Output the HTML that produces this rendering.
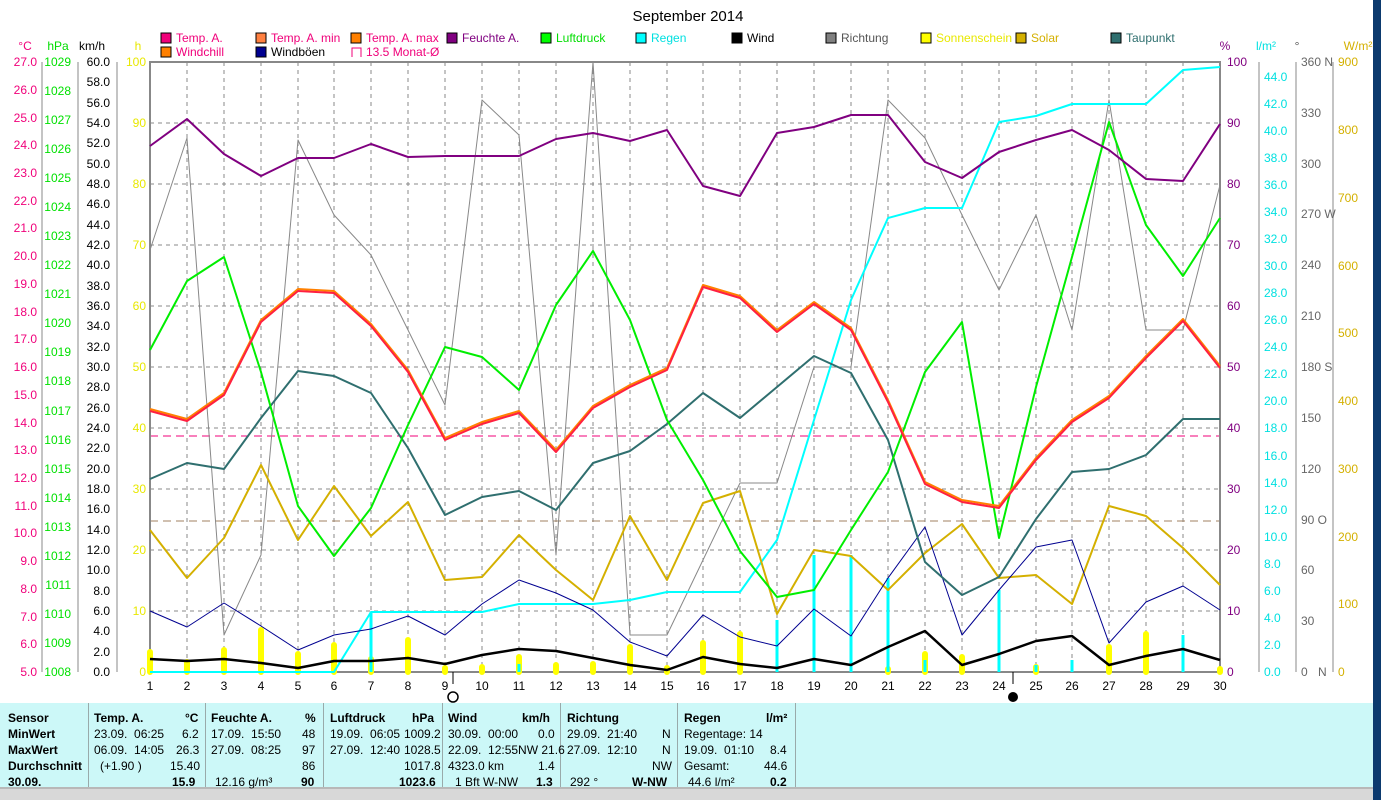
<!DOCTYPE html>
<html><head><meta charset="utf-8"><style>
body{margin:0;width:1381px;height:800px;overflow:hidden;background:#fff;font-family:"Liberation Sans",sans-serif;position:relative}
svg{position:absolute;left:0;top:0}
.tb{position:absolute;left:0;top:703px;width:1373px;height:84px;background:#ccf8f8}
.c{position:absolute;font-size:12px;color:#000;white-space:nowrap}
.b{font-weight:bold}
.sep{position:absolute;top:703px;width:1px;height:84px;background:#9aa}
</style></head><body>
<svg width="1381" height="800" font-family="Liberation Sans, sans-serif" font-size="12">
<rect x="1373" y="0" width="8" height="800" fill="#0c3a6e"/>
<text x="688" y="21" font-size="15" text-anchor="middle">September 2014</text>
<!-- legend -->
<g font-size="12">
<rect x="161" y="33" width="10" height="10" fill="#f0007a" stroke="#000"/><text x="176" y="42" fill="#f0007a">Temp. A.</text>
<rect x="256" y="33" width="10" height="10" fill="#ff8040" stroke="#000"/><text x="271" y="42" fill="#f0007a">Temp. A. min</text>
<rect x="351" y="33" width="10" height="10" fill="#ff8000" stroke="#000"/><text x="366" y="42" fill="#f0007a">Temp. A. max</text>
<rect x="447" y="33" width="10" height="10" fill="#800080" stroke="#000"/><text x="462" y="42" fill="#800080">Feuchte A.</text>
<rect x="541" y="33" width="10" height="10" fill="#00ff00" stroke="#000"/><text x="556" y="42" fill="#00dd00">Luftdruck</text>
<rect x="636" y="33" width="10" height="10" fill="#00ffff" stroke="#000"/><text x="651" y="42" fill="#00e0e0">Regen</text>
<rect x="732" y="33" width="10" height="10" fill="#000" stroke="#000"/><text x="747" y="42">Wind</text>
<rect x="826" y="33" width="10" height="10" fill="#808080" stroke="#000"/><text x="841" y="42" fill="#555">Richtung</text>
<rect x="921" y="33" width="10" height="10" fill="#ffff00" stroke="#000"/><text x="936" y="42" fill="#e8e800">Sonnenschein</text>
<rect x="1016" y="33" width="10" height="10" fill="#d4b000" stroke="#000"/><text x="1031" y="42" fill="#d4b000">Solar</text>
<rect x="1111" y="33" width="10" height="10" fill="#2f6f6f" stroke="#000"/><text x="1126" y="42" fill="#2f6f6f">Taupunkt</text>
<rect x="161" y="47" width="10" height="10" fill="#ff8000" stroke="#000"/><text x="176" y="56" fill="#f0007a">Windchill</text>
<rect x="256" y="47" width="10" height="10" fill="#000090" stroke="#000"/><text x="271" y="56">Windböen</text>
<path d="M352 57V48h9v9" fill="none" stroke="#f0007a"/><text x="366" y="56" fill="#f0007a">13.5 Monat-Ø</text>
</g>
<!-- axis headers -->
<text x="25" y="50" fill="#f0007a" text-anchor="middle">°C</text>
<text x="58" y="50" fill="#00dd00" text-anchor="middle">hPa</text>
<text x="92" y="50" text-anchor="middle">km/h</text>
<text x="138" y="50" fill="#e8e800" text-anchor="middle">h</text>
<text x="1225" y="50" fill="#800080" text-anchor="middle">%</text>
<text x="1266" y="50" fill="#00e0e0" text-anchor="middle">l/m²</text>
<text x="1297" y="50" fill="#555" text-anchor="middle">°</text>
<text x="1358" y="50" fill="#d4b000" text-anchor="middle">W/m²</text>
<!-- grid -->
<g stroke="#888" stroke-dasharray="4,4" stroke-width="1">
<path d="M187 62V672M224 62V672M261 62V672M298 62V672M334 62V672M371 62V672M408 62V672M445 62V672M482 62V672M519 62V672M556 62V672M593 62V672M630 62V672M667 62V672M703 62V672M740 62V672M777 62V672M814 62V672M851 62V672M888 62V672M925 62V672M962 62V672M999 62V672M1036 62V672M1072 62V672M1109 62V672M1146 62V672M1183 62V672"/>
<path d="M150 123H1220M150 184H1220M150 245H1220M150 306H1220M150 367H1220M150 428H1220M150 489H1220M150 550H1220M150 611H1220"/>
</g>
<path d="M150 436H1220" stroke="#f0007a" stroke-dasharray="8,5"/>
<path d="M150 521H1220" stroke="#a08060" stroke-dasharray="8,5"/>
<rect x="150" y="62" width="1070" height="610" fill="none" stroke="#888" stroke-width="2"/>
<!-- left axes -->
<g stroke="#888"><path d="M42 62V672M78 62V672M117 62V672"/></g>
<g fill="#f0007a" text-anchor="end">
<text x="37" y="66">27.0</text><text x="37" y="94">26.0</text><text x="37" y="122">25.0</text><text x="37" y="149">24.0</text><text x="37" y="177">23.0</text><text x="37" y="205">22.0</text><text x="37" y="232">21.0</text><text x="37" y="260">20.0</text><text x="37" y="288">19.0</text><text x="37" y="316">18.0</text><text x="37" y="343">17.0</text><text x="37" y="371">16.0</text><text x="37" y="399">15.0</text><text x="37" y="427">14.0</text><text x="37" y="454">13.0</text><text x="37" y="482">12.0</text><text x="37" y="510">11.0</text><text x="37" y="537">10.0</text><text x="37" y="565">9.0</text><text x="37" y="593">8.0</text><text x="37" y="621">7.0</text><text x="37" y="648">6.0</text><text x="37" y="676">5.0</text>
</g>
<g fill="#00e000" text-anchor="end">
<text x="71" y="66">1029</text><text x="71" y="95">1028</text><text x="71" y="124">1027</text><text x="71" y="153">1026</text><text x="71" y="182">1025</text><text x="71" y="211">1024</text><text x="71" y="240">1023</text><text x="71" y="269">1022</text><text x="71" y="298">1021</text><text x="71" y="327">1020</text><text x="71" y="356">1019</text><text x="71" y="385">1018</text><text x="71" y="415">1017</text><text x="71" y="444">1016</text><text x="71" y="473">1015</text><text x="71" y="502">1014</text><text x="71" y="531">1013</text><text x="71" y="560">1012</text><text x="71" y="589">1011</text><text x="71" y="618">1010</text><text x="71" y="647">1009</text><text x="71" y="676">1008</text>
</g>
<g text-anchor="end">
<text x="110" y="66">60.0</text><text x="110" y="86">58.0</text><text x="110" y="107">56.0</text><text x="110" y="127">54.0</text><text x="110" y="147">52.0</text><text x="110" y="168">50.0</text><text x="110" y="188">48.0</text><text x="110" y="208">46.0</text><text x="110" y="229">44.0</text><text x="110" y="249">42.0</text><text x="110" y="269">40.0</text><text x="110" y="290">38.0</text><text x="110" y="310">36.0</text><text x="110" y="330">34.0</text><text x="110" y="351">32.0</text><text x="110" y="371">30.0</text><text x="110" y="391">28.0</text><text x="110" y="412">26.0</text><text x="110" y="432">24.0</text><text x="110" y="452">22.0</text><text x="110" y="473">20.0</text><text x="110" y="493">18.0</text><text x="110" y="513">16.0</text><text x="110" y="534">14.0</text><text x="110" y="554">12.0</text><text x="110" y="574">10.0</text><text x="110" y="595">8.0</text><text x="110" y="615">6.0</text><text x="110" y="635">4.0</text><text x="110" y="656">2.0</text><text x="110" y="676">0.0</text>
</g>
<g fill="#e8e800" text-anchor="end">
<text x="146" y="66">100</text><text x="146" y="127">90</text><text x="146" y="188">80</text><text x="146" y="249">70</text><text x="146" y="310">60</text><text x="146" y="371">50</text><text x="146" y="432">40</text><text x="146" y="493">30</text><text x="146" y="554">20</text><text x="146" y="615">10</text><text x="146" y="676">0</text>
</g>
<!-- right axes -->
<g stroke="#888"><path d="M1259 62V672M1296 62V672M1333 62V672"/></g>
<g fill="#800080">
<text x="1227" y="66">100</text><text x="1227" y="127">90</text><text x="1227" y="188">80</text><text x="1227" y="249">70</text><text x="1227" y="310">60</text><text x="1227" y="371">50</text><text x="1227" y="432">40</text><text x="1227" y="493">30</text><text x="1227" y="554">20</text><text x="1227" y="615">10</text><text x="1227" y="676">0</text>
</g>
<g fill="#00e0e0">
<text x="1264" y="81">44.0</text><text x="1264" y="108">42.0</text><text x="1264" y="135">40.0</text><text x="1264" y="162">38.0</text><text x="1264" y="189">36.0</text><text x="1264" y="216">34.0</text><text x="1264" y="243">32.0</text><text x="1264" y="270">30.0</text><text x="1264" y="297">28.0</text><text x="1264" y="324">26.0</text><text x="1264" y="351">24.0</text><text x="1264" y="378">22.0</text><text x="1264" y="405">20.0</text><text x="1264" y="432">18.0</text><text x="1264" y="460">16.0</text><text x="1264" y="487">14.0</text><text x="1264" y="514">12.0</text><text x="1264" y="541">10.0</text><text x="1264" y="568">8.0</text><text x="1264" y="595">6.0</text><text x="1264" y="622">4.0</text><text x="1264" y="649">2.0</text><text x="1264" y="676">0.0</text>
</g>
<g fill="#666">
<text x="1301" y="66">360 N</text><text x="1301" y="117">330</text><text x="1301" y="168">300</text><text x="1301" y="218">270 W</text><text x="1301" y="269">240</text><text x="1301" y="320">210</text><text x="1301" y="371">180 S</text><text x="1301" y="422">150</text><text x="1301" y="473">120</text><text x="1301" y="524">90 O</text><text x="1301" y="574">60</text><text x="1301" y="625">30</text><text x="1301" y="676">0</text><text x="1318" y="676">N</text>
</g>
<g fill="#d4b000">
<text x="1338" y="66">900</text><text x="1338" y="134">800</text><text x="1338" y="202">700</text><text x="1338" y="270">600</text><text x="1338" y="337">500</text><text x="1338" y="405">400</text><text x="1338" y="473">300</text><text x="1338" y="541">200</text><text x="1338" y="608">100</text><text x="1338" y="676">0</text>
</g>
<!-- x labels -->
<g text-anchor="middle">
<text x="150" y="690">1</text><text x="187" y="690">2</text><text x="224" y="690">3</text><text x="261" y="690">4</text><text x="298" y="690">5</text><text x="334" y="690">6</text><text x="371" y="690">7</text><text x="408" y="690">8</text><text x="445" y="690">9</text><text x="482" y="690">10</text><text x="519" y="690">11</text><text x="556" y="690">12</text><text x="593" y="690">13</text><text x="630" y="690">14</text><text x="667" y="690">15</text><text x="703" y="690">16</text><text x="740" y="690">17</text><text x="777" y="690">18</text><text x="814" y="690">19</text><text x="851" y="690">20</text><text x="888" y="690">21</text><text x="925" y="690">22</text><text x="962" y="690">23</text><text x="999" y="690">24</text><text x="1036" y="690">25</text><text x="1072" y="690">26</text><text x="1109" y="690">27</text><text x="1146" y="690">28</text><text x="1183" y="690">29</text><text x="1220" y="690">30</text>
</g>
<path d="M453 672v12M1013 672v12" stroke="#000"/>
<circle cx="453" cy="697" r="5" fill="none" stroke="#000" stroke-width="1.5"/>
<circle cx="1013" cy="697" r="5" fill="#000"/>
<!-- sunshine bars -->
<g stroke="#ffff00" stroke-width="6" stroke-linecap="round">
<path d="M150 672V652M187 672V662M224 672V650M261 672V630M298 672V654M334 672V645M371 672V659M408 672V640M445 672V668M482 672V667M519 672V657M556 672V665M593 672V664M630 672V647M667 672V668M703 672V643M740 672V634M888 672V669M925 672V654M962 672V657M1036 672V667M1109 672V647M1146 672V634M1220 672V669"/>
</g>
<!-- rain bars -->
<g stroke="#00ffff" stroke-width="3">
<path d="M371 672V612M519 672V664M777 672V620M814 672V555M851 672V555M888 672V578M925 672V660M999 672V590M1036 672V665M1072 672V660M1183 672V635"/>
</g>
<g fill="none" stroke-linejoin="round">
<polyline stroke="#888" stroke-width="1" points="150,250 187,138 224,635 261,555 298,140 334,215 371,255 408,330 445,405 482,100 519,135 556,555 593,62 630,635 667,635 703,560 740,483 777,483 814,367 851,367 888,100 925,138 962,215 999,290 1036,215 1072,330 1109,100 1146,330 1183,330 1220,185"/>
<polyline stroke="#00ffff" stroke-width="2" points="150,672 334,672 371,612 482,612 519,604 593,604 630,600 667,592 740,592 777,540 814,420 851,300 888,218 925,208 962,208 999,122 1036,116 1072,104 1146,104 1183,70 1220,67"/>
<polyline stroke="#d4b000" stroke-width="2" points="150,530 187,578 224,538 261,465 298,540 334,486 371,536 408,502 445,580 482,577 519,535 556,570 593,600 630,516 667,580 703,503 740,491 777,614 814,550 851,556 888,590 925,553 962,524 999,578 1036,575 1072,604 1109,506 1146,516 1183,548 1220,585"/>
<polyline stroke="#000090" stroke-width="1" points="150,611 187,627 224,603 261,626 298,650 334,635 371,629 408,616 445,635 482,604 519,580 556,593 593,610 630,642 667,656 703,615 740,637 777,646 814,609 851,636 888,578 925,527 962,635 999,590 1036,547 1072,540 1109,643 1146,602 1183,586 1220,610"/>
<polyline stroke="#000" stroke-width="2.5" points="150,659 187,661 224,659 261,663 298,668 334,661 371,661 408,658 445,664 482,655 519,649 556,651 593,658 630,665 667,670 703,657 740,664 777,668 814,659 851,665 888,647 925,631 962,665 999,654 1036,641 1072,636 1109,665 1146,656 1183,649 1220,660"/>
<polyline stroke="#2f6f6f" stroke-width="2" points="150,479 187,463 224,469 261,418 298,371 334,376 371,393 408,448 445,515 482,497 519,491 556,510 593,463 630,451 667,424 703,393 740,418 777,387 814,356 851,373 888,440 925,562 962,595 999,577 1036,519 1072,472 1109,469 1146,455 1183,419 1220,419"/>
<polyline stroke="#00ee00" stroke-width="2" points="150,350 187,281 224,257 261,372 298,506 334,556 371,508 408,425 445,347 482,357 519,390 556,305 593,251 630,320 667,420 703,480 740,551 777,597 814,590 851,530 888,472 925,372 962,322 999,538 1036,387 1072,257 1109,122 1146,225 1183,276 1220,218"/>
<polyline stroke="#ff8000" stroke-width="2" transform="translate(0,-2)" points="150,411 187,421 224,395 261,322 298,291 334,293 371,326 408,372 445,440 482,424 519,413 556,452 593,408 630,387 667,370 703,287 740,298 777,332 814,304 851,330 888,402 925,484 962,502 999,508 1036,460 1072,422 1109,398 1146,358 1183,321 1220,368"/>
<polyline stroke="#ff2040" stroke-width="2" points="150,411 187,421 224,395 261,322 298,291 334,293 371,326 408,372 445,440 482,424 519,413 556,452 593,408 630,387 667,370 703,287 740,298 777,332 814,304 851,330 888,402 925,484 962,502 999,508 1036,460 1072,422 1109,398 1146,358 1183,321 1220,368"/>
<polyline stroke="#800080" stroke-width="2" points="150,146 187,119 224,154 261,176 298,158 334,158 371,144 408,157 445,156 482,156 519,156 556,139 593,133 630,141 667,130 703,186 740,196 777,133 814,127 851,115 888,115 925,162 962,178 999,152 1036,140 1072,130 1109,150 1146,179 1183,181 1220,124"/>
</g>
<rect x="0" y="787" width="1373" height="13" fill="#d8d8d8"/>
<path d="M0 788H1373" stroke="#999"/>
</svg>
<div class="tb"></div>
<div class="sep" style="left:88px"></div><div class="sep" style="left:205px"></div><div class="sep" style="left:323px"></div><div class="sep" style="left:442px"></div><div class="sep" style="left:560px"></div><div class="sep" style="left:677px"></div><div class="sep" style="left:795px"></div>
<div class="c b" style="left:8px;top:711px">Sensor</div>
<div class="c b" style="left:8px;top:727px">MinWert</div>
<div class="c b" style="left:8px;top:743px">MaxWert</div>
<div class="c b" style="left:8px;top:759px">Durchschnitt</div>
<div class="c b" style="left:8px;top:775px">30.09.</div>

<div class="c b" style="left:94px;top:711px">Temp. A.</div><div class="c b" style="left:185px;top:711px">°C</div>
<div class="c" style="left:94px;top:727px">23.09.&nbsp; 06:25</div><div class="c" style="left:182px;top:727px">6.2</div>
<div class="c" style="left:94px;top:743px">06.09.&nbsp; 14:05</div><div class="c" style="left:176px;top:743px">26.3</div>
<div class="c" style="left:100px;top:759px">(+1.90 )</div><div class="c" style="left:170px;top:759px">15.40</div>
<div class="c b" style="left:172px;top:775px">15.9</div>

<div class="c b" style="left:211px;top:711px">Feuchte A.</div><div class="c b" style="left:305px;top:711px">%</div>
<div class="c" style="left:211px;top:727px">17.09.&nbsp; 15:50</div><div class="c" style="left:302px;top:727px">48</div>
<div class="c" style="left:211px;top:743px">27.09.&nbsp; 08:25</div><div class="c" style="left:302px;top:743px">97</div>
<div class="c" style="left:302px;top:759px">86</div>
<div class="c" style="left:215px;top:775px">12.16 g/m³</div><div class="c b" style="left:301px;top:775px">90</div>

<div class="c b" style="left:330px;top:711px">Luftdruck</div><div class="c b" style="left:412px;top:711px">hPa</div>
<div class="c" style="left:330px;top:727px">19.09.&nbsp; 06:05</div><div class="c" style="left:404px;top:727px">1009.2</div>
<div class="c" style="left:330px;top:743px">27.09.&nbsp; 12:40</div><div class="c" style="left:404px;top:743px">1028.5</div>
<div class="c" style="left:404px;top:759px">1017.8</div>
<div class="c b" style="left:399px;top:775px">1023.6</div>

<div class="c b" style="left:448px;top:711px">Wind</div><div class="c b" style="left:522px;top:711px">km/h</div>
<div class="c" style="left:448px;top:727px">30.09.&nbsp; 00:00</div><div class="c" style="left:538px;top:727px">0.0</div>
<div class="c" style="left:448px;top:743px">22.09.&nbsp; 12:55NW 21.6</div>
<div class="c" style="left:448px;top:759px">4323.0 km</div><div class="c" style="left:538px;top:759px">1.4</div>
<div class="c" style="left:455px;top:775px">1 Bft W-NW</div><div class="c b" style="left:536px;top:775px">1.3</div>

<div class="c b" style="left:567px;top:711px">Richtung</div>
<div class="c" style="left:567px;top:727px">29.09.&nbsp; 21:40</div><div class="c" style="left:662px;top:727px">N</div>
<div class="c" style="left:567px;top:743px">27.09.&nbsp; 12:10</div><div class="c" style="left:662px;top:743px">N</div>
<div class="c" style="left:652px;top:759px">NW</div>
<div class="c" style="left:570px;top:775px">292 °</div><div class="c b" style="left:632px;top:775px">W-NW</div>

<div class="c b" style="left:684px;top:711px">Regen</div><div class="c b" style="left:766px;top:711px">l/m²</div>
<div class="c" style="left:684px;top:727px">Regentage: 14</div>
<div class="c" style="left:684px;top:743px">19.09.&nbsp; 01:10</div><div class="c" style="left:770px;top:743px">8.4</div>
<div class="c" style="left:684px;top:759px">Gesamt:</div><div class="c" style="left:764px;top:759px">44.6</div>
<div class="c" style="left:688px;top:775px">44.6 l/m²</div><div class="c b" style="left:770px;top:775px">0.2</div>
</body></html>
